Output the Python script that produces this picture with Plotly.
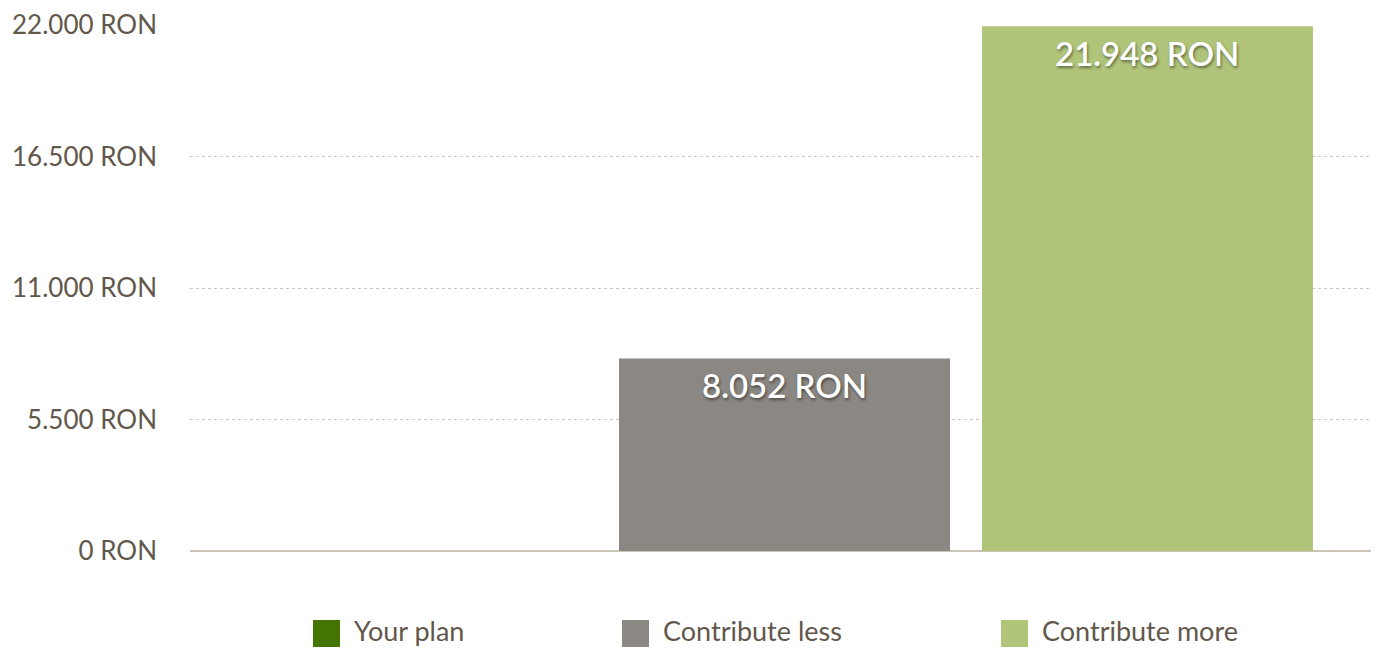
import plotly.graph_objects as go

# ---- data ----
series_names = ["Your plan", "Contribute less", "Contribute more"]
series_values = [0, 8052, 21948]
series_colors = ["#437500", "#8b8782", "#b0c57a"]
tick_values = [0, 5500, 11000, 16500, 22000]
tick_labels = ["0 RON", "5.500 RON", "11.000 RON", "16.500 RON", "22.000 RON"]
currency = "RON"

# page has an 8px body margin: compensate
OFF = 8
W, H = 1379 - OFF, 648 - OFF
ML, MR, MT, MB = 190 - OFF, 0, 25 - OFF, 97
PW, PH = W - ML - MR, H - MT - MB
TEXT = "#62574b"
FONT = "Lato"


def fmt(v):
    return f"{v:,}".replace(",", ".") + " " + currency


fig = go.Figure()
for i, (n, v, c) in enumerate(zip(series_names, series_values, series_colors)):
    fig.add_trace(go.Bar(x=[i], y=[v], name=n, marker=dict(color=c, line=dict(width=0)),
                         width=0.912, showlegend=False, hoverinfo="skip"))
    if v > 0:
        fig.add_annotation(x=i, y=v, xref="x", yref="y", text=fmt(v), showarrow=False,
                           yanchor="top", yshift=-5,
                           font=dict(family=FONT, size=33, color="white", weight=600,
                                     shadow="1px 2px 3px rgba(0,0,0,0.45)"))

# manual legend (large square swatches), page-pixel positions
legend_x = [313, 622, 1001]
sq = 27
sq_top = 620
for n, c, lx in zip(series_names, series_colors, legend_x):
    fx = lx - OFF
    fy = sq_top - OFF
    x0 = (fx - ML) / PW
    x1 = (fx + sq - ML) / PW
    y0 = (H - MB - (fy + sq)) / PH
    y1 = (H - MB - fy) / PH
    fig.add_shape(type="rect", xref="paper", yref="paper", x0=x0, x1=x1, y0=y0, y1=y1,
                  fillcolor=c, line=dict(width=0))
    fig.add_annotation(xref="paper", yref="paper", x=(fx + sq + 13 - ML) / PW,
                       y=(y0 + y1) / 2, yshift=3, text=n, showarrow=False, xanchor="left",
                       yanchor="middle", borderpad=0,
                       font=dict(family=FONT, size=27, color=TEXT))

fig.update_layout(
    width=W, height=H,
    margin=dict(l=ML, r=MR, t=MT, b=MB),
    paper_bgcolor="white", plot_bgcolor="white",
    barmode="overlay",
    xaxis=dict(range=[-0.638, 2.638], showticklabels=False, showgrid=False,
               zeroline=False, showline=False, fixedrange=True),
    yaxis=dict(range=[0, 22000], tickvals=tick_values, ticktext=tick_labels,
               showgrid=True, gridcolor="#c8c8c8", griddash="dot", gridwidth=1,
               zeroline=True, zerolinecolor="#c9c4b6", zerolinewidth=1.5,
               tickfont=dict(family=FONT, size=26, color=TEXT),
               ticklabelstandoff=32, showline=False, fixedrange=True),
    font=dict(family=FONT, color=TEXT),
)

fig.write_html("out.html")
